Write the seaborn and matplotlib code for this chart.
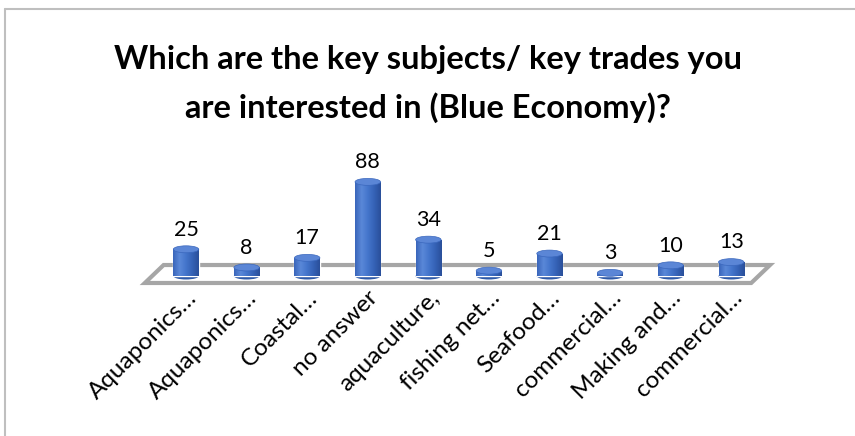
import numpy as np
import pandas as pd
import matplotlib.pyplot as plt
import seaborn as sns
from matplotlib.patches import Ellipse, Polygon
from matplotlib.lines import Line2D
from matplotlib.colors import LinearSegmentedColormap

# survey answers (truncated labels as shown in the chart)
subjects = ["Aquaponics…", "Aquaponics…", "Coastal…", "no answer", "aquaculture,",
            "fishing net…", "Seafood…", "commercial…", "Making and…", "commercial…"]
counts = [25, 8, 17, 88, 34, 5, 21, 3, 10, 13]


def main():
    sns.set_theme(style="white")
    plt.rcParams["font.family"] = ["Lato", "DejaVu Sans"]

    data = pd.DataFrame({"pos": np.arange(len(subjects)), "Count": counts})

    fig = plt.figure(figsize=(8.55, 4.36), dpi=100)
    fig.patch.set_facecolor("white")

    # chart frame (only left and top edges are visible in the crop)
    fig.add_artist(Line2D([5 / 855, 5 / 855], [0, 1 - 9 / 436], color="#bfbfbf", lw=1.5))
    fig.add_artist(Line2D([5 / 855, 1], [1 - 9 / 436, 1 - 9 / 436], color="#bfbfbf", lw=1.5))

    fig.text(0.5, 1 - 59 / 436, "Which are the key subjects/ key trades you",
             ha="center", va="center", fontsize=23.5, fontweight="bold", color="black")
    fig.text(0.5, 1 - 108 / 436, "are interested in (Blue Economy)?",
             ha="center", va="center", fontsize=23.5, fontweight="bold", color="black")

    ax = fig.add_axes([130 / 855, 136 / 436, 660 / 855, 150 / 436])
    ax.axis("off")

    # floor of the pseudo-3D chart
    floor = Polygon([(-0.68, -6.5), (9.33, -6.5), (9.64, 10.3), (-0.37, 10.3)],
                    closed=True, facecolor="white", edgecolor="#a6a6a6", lw=3, zorder=1)
    ax.add_patch(floor)

    sns.barplot(data=data, x="pos", y="Count", native_scale=True, width=0.42,
                color="#3f6fc6", saturation=1, errorbar=None, ax=ax, zorder=3)

    grad = np.linspace(0, 1, 64).reshape(1, -1)
    cmap = LinearSegmentedColormap.from_list(
        "cyl", ["#3a66bb", "#5a88d8", "#4475cb", "#3562b6", "#2a4f9a"])
    eh = 6.5
    for patch, v in zip([p for p in ax.patches if p is not floor], counts):
        x0 = patch.get_x()
        w = patch.get_width()
        cx = x0 + w / 2
        # bottom rounding
        ax.add_patch(Ellipse((cx, 0), w, eh, facecolor="#2f5aa8", edgecolor="none", zorder=2.9))
        im = ax.imshow(grad, extent=(x0, x0 + w, 0, v), aspect="auto", cmap=cmap,
                       zorder=3.1, interpolation="bilinear")
        im.set_clip_path(patch)
        # top cap
        ax.add_patch(Ellipse((cx, v), w, eh, facecolor="#5b86d6", edgecolor="#3a67bd",
                             lw=0.5, zorder=3.5))
        ax.text(cx, v + 9, str(v), ha="center", va="bottom", fontsize=15.5, color="black")

    ax.set_xlim(-0.925, 9.97)
    ax.set_ylim(-22.4, 117.8)

    for i, lab in enumerate(subjects):
        ax.text(i + 0.12, -17, lab, rotation=45, rotation_mode="anchor",
                ha="right", va="center", fontsize=17.5, color="black")

    fig.savefig("out.png", dpi=100)


if __name__ == "__main__":
    main()
